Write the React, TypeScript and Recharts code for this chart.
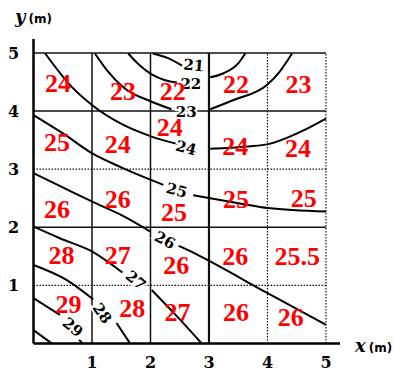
import React from 'react';
import { ComposedChart, XAxis, YAxis, Line, Scatter, ReferenceLine } from 'recharts';

// axis ticks
const xTicks = [1, 2, 3, 4, 5];
const yTicks = [1, 2, 3, 4, 5];

// grid lines (x = const and y = const)
const gridXs = [1, 2, 3, 4, 5];
const gridYs = [1, 2, 3, 4, 5];

// red values written in the cells
const cellLabels = [
  '24', '23', '22', '22', '23',
  '25', '24', '24', '24', '24',
  '26', '26', '25', '25', '25',
  '28', '27', '26', '26', '25.5',
  '29', '28', '27', '26', '26',
];
const cellX = [
  0.42, 1.53, 2.38, 3.46, 4.53,
  0.40, 1.44, 2.33, 3.45, 4.52,
  0.40, 1.44, 2.40, 3.46, 4.62,
  0.48, 1.44, 2.44, 3.45, 4.51,
  0.60, 1.69, 2.46, 3.46, 4.40,
];
const cellY = [
  4.48, 4.34, 4.35, 4.47, 4.47,
  3.46, 3.43, 3.73, 3.40, 3.36,
  2.31, 2.49, 2.26, 2.49, 2.50,
  1.52, 1.52, 1.35, 1.50, 1.50,
  0.68, 0.61, 0.54, 0.54, 0.45,
];

// isotherm contours (null = gap where the label sits)
const contour21 = [
  { x: 2.04, y: 4.99 }, { x: 2.30, y: 4.91 }, { x: 2.54, y: 4.78 },
];
const contour22 = [
  { x: 1.62, y: 4.99 }, { x: 1.80, y: 4.80 }, { x: 2.02, y: 4.63 }, { x: 2.25, y: 4.53 }, { x: 2.45, y: 4.49 },
  { x: 2.7, y: null },
  { x: 3.02, y: 4.58 }, { x: 3.25, y: 4.65 }, { x: 3.50, y: 4.82 }, { x: 3.62, y: 4.99 },
];
const contour23 = [
  { x: 1.05, y: 4.99 }, { x: 1.25, y: 4.71 }, { x: 1.535, y: 4.41 }, { x: 2.02, y: 4.16 }, { x: 2.36, y: 4.03 },
  { x: 2.7, y: null },
  { x: 3.02, y: 4.03 }, { x: 3.42, y: 4.19 }, { x: 3.99, y: 4.45 }, { x: 4.21, y: 4.68 }, { x: 4.42, y: 4.99 },
];
const contour24 = [
  { x: 0.20, y: 4.99 }, { x: 0.65, y: 4.42 }, { x: 1.005, y: 4.10 }, { x: 1.48, y: 3.79 }, { x: 2.02, y: 3.56 }, { x: 2.48, y: 3.43 },
  { x: 2.7, y: null },
  { x: 3.02, y: 3.35 }, { x: 3.67, y: 3.39 }, { x: 4.01, y: 3.43 }, { x: 4.56, y: 3.64 }, { x: 5.0, y: 3.87 },
];
const contour25 = [
  { x: 0, y: 3.93 }, { x: 0.51, y: 3.61 }, { x: 1.005, y: 3.27 }, { x: 1.48, y: 3.04 }, { x: 2.02, y: 2.81 }, { x: 2.22, y: 2.73 },
  { x: 2.5, y: null },
  { x: 2.73, y: 2.55 }, { x: 3.53, y: 2.41 }, { x: 4.01, y: 2.33 }, { x: 5.0, y: 2.27 },
];
const contour26 = [
  { x: 0, y: 2.93 }, { x: 0.57, y: 2.65 }, { x: 1.005, y: 2.44 }, { x: 1.48, y: 2.22 }, { x: 1.99, y: 1.93 },
  { x: 2.25, y: null },
  { x: 2.48, y: 1.68 }, { x: 2.68, y: 1.59 }, { x: 3.02, y: 1.41 }, { x: 4.01, y: 0.86 }, { x: 5.0, y: 0.32 },
];
const contour27 = [
  { x: 0, y: 2.01 }, { x: 0.45, y: 1.81 }, { x: 1.005, y: 1.58 }, { x: 1.52, y: 1.22 },
  { x: 1.75, y: null },
  { x: 2.02, y: 0.92 }, { x: 2.45, y: 0.47 }, { x: 2.875, y: 0 },
];
const contour28 = [
  { x: 0, y: 1.35 }, { x: 0.57, y: 1.09 }, { x: 1.02, y: 0.76 },
  { x: 1.2, y: null },
  { x: 1.42, y: 0.35 }, { x: 1.65, y: 0 },
];
const contour29 = [
  { x: 0, y: 0.78 }, { x: 0.45, y: 0.49 },
  { x: 0.65, y: null },
  { x: 0.78, y: 0.06 }, { x: 0.84, y: 0 },
];
const contour30 = [
  { x: 0, y: 0.23 }, { x: 0.31, y: 0 },
];
const contours = [contour21, contour22, contour23, contour24, contour25, contour26, contour27, contour28, contour29, contour30];

// contour labels
const contourLabels = ['21', '22', '23', '24', '25', '26', '27', '28', '29'];
const contourLabelX = [2.74, 2.69, 2.61, 2.61, 2.45, 2.25, 1.75, 1.18, 0.675];
const contourLabelY = [4.79, 4.47, 3.99, 3.37, 2.64, 1.78, 1.09, 0.52, 0.28];

// styling
const labelAngles = [5, 0, 0, 15, 15, 28, 40, 55, 40];
const solidGridX = [true, true, true, false, false];
const solidGridY = [false, true, false, true, true];
const gridWidthX = [1.5, 1.5, 2.2, 1.2, 1.2];

const cellData = cellLabels.map((label, i) => ({ x: cellX[i], y: cellY[i], label }));
const contourLabelData = contourLabels.map((label, i) => ({
  x: contourLabelX[i], y: contourLabelY[i], label, angle: labelAngles[i],
}));

const XTick = (props: any) => (
  <text x={props.x} y={props.y + 25} textAnchor="middle" fontFamily="DejaVu Serif" fontWeight="bold" fontSize={16} fill="#000">
    {props.payload.value}
  </text>
);
const YTick = (props: any) => (
  <text x={props.x - 20} y={props.y + 6} textAnchor="middle" fontFamily="DejaVu Serif" fontWeight="bold" fontSize={16} fill="#000">
    {props.payload.value}
  </text>
);

const CellText = (props: any) => (
  <text x={props.cx} y={props.cy} dy="0.34em" textAnchor="middle" fontFamily="Liberation Serif" fontWeight="bold" fontSize={26} fill="#ff0000">
    {props.payload.label}
  </text>
);
const ContourText = (props: any) => (
  <text
    x={props.cx}
    y={props.cy}
    dy="0.36em"
    textAnchor="middle"
    fontFamily="DejaVu Serif"
    fontWeight="bold"
    fontSize={15}
    fill="#000"
    stroke="#fff"
    strokeWidth={4}
    paintOrder="stroke"
    transform={`rotate(${props.payload.angle}, ${props.cx}, ${props.cy})`}
  >
    {props.payload.label}
  </text>
);

const YTitle = () => (
  <text x={15} y={23} fill="#000">
    <tspan fontFamily="DejaVu Serif" fontStyle="italic" fontWeight="bold" fontSize={18}>y</tspan>
    <tspan fontFamily="DejaVu Sans" fontWeight="bold" fontSize={12} dx={3}>(m)</tspan>
  </text>
);
const XTitle = () => (
  <text x={355} y={352} fill="#000">
    <tspan fontFamily="DejaVu Serif" fontStyle="italic" fontWeight="bold" fontSize={18}>x</tspan>
    <tspan fontFamily="DejaVu Sans" fontWeight="bold" fontSize={12} dx={3}>(m)</tspan>
  </text>
);

export default function App() {
  return (
    <div style={{ position: 'absolute', left: 0, top: 0, background: '#fff' }}>
      <ComposedChart width={393} height={371} margin={{ top: 39, right: 53, bottom: 0, left: 0 }}>
        <XAxis
          type="number"
          dataKey="x"
          domain={[0, 5.24]}
          ticks={xTicks}
          allowDataOverflow
          height={27.6}
          tickLine={false}
          tickSize={0}
          tickMargin={0}
          axisLine={{ stroke: '#000', strokeWidth: 2.5 }}
          tick={XTick}
          label={{ content: XTitle }}
        />
        <YAxis
          type="number"
          dataKey="y"
          domain={[0, 5.24]}
          ticks={yTicks}
          allowDataOverflow
          width={33.5}
          tickLine={false}
          tickSize={0}
          tickMargin={0}
          axisLine={{ stroke: '#000', strokeWidth: 2.5 }}
          tick={YTick}
          label={{ content: YTitle }}
        />
        {gridXs.map((gx, i) => (
          <ReferenceLine
            key={`gx${gx}`}
            segment={[{ x: gx, y: 0 }, { x: gx, y: 5 }]}
            stroke="#111"
            strokeWidth={gridWidthX[i]}
            strokeDasharray={solidGridX[i] ? undefined : '1.5 1.5'}
          />
        ))}
        {gridYs.map((gy, i) => (
          <ReferenceLine
            key={`gy${gy}`}
            segment={[{ x: 0, y: gy }, { x: 5, y: gy }]}
            stroke="#111"
            strokeWidth={solidGridY[i] ? 1.5 : 1.2}
            strokeDasharray={solidGridY[i] ? undefined : '1.5 1.5'}
          />
        ))}
        {contours.map((c, i) => (
          <Line
            key={`c${i}`}
            data={c}
            dataKey="y"
            type="monotone"
            stroke="#000"
            strokeWidth={2}
            dot={false}
            activeDot={false}
            connectNulls={false}
            isAnimationActive={false}
          />
        ))}
        <Scatter data={contourLabelData} dataKey="y" shape={ContourText} isAnimationActive={false} />
        <Scatter data={cellData} dataKey="y" shape={CellText} isAnimationActive={false} />
      </ComposedChart>
    </div>
  );
}
